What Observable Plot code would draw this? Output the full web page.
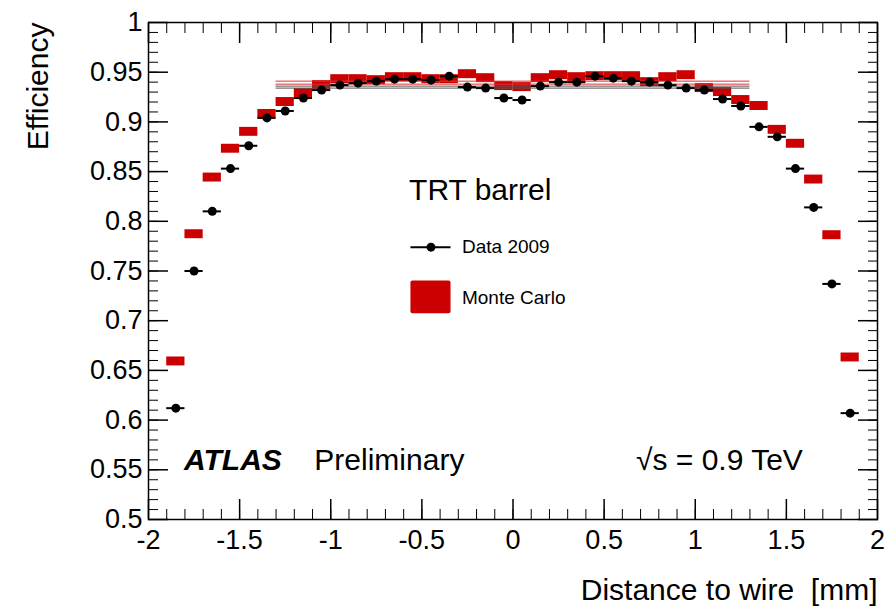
<!DOCTYPE html>
<html>
<head>
<meta charset="utf-8">
<script src="https://cdn.jsdelivr.net/npm/d3@7"></script>
<script src="https://cdn.jsdelivr.net/npm/@observablehq/plot@0.6"></script>
<style>
  body { margin: 0; background: #fff; }
  #chart svg { font-family: "Liberation Sans", Arial, sans-serif; }
</style>
</head>
<body>
<div id="chart"></div>
<script>
// bin centres, width 0.1 mm
const centres = d3.range(38).map(i => +(-1.85 + i * 0.1).toFixed(2));
const dataEff = [0.612, 0.750, 0.810, 0.853, 0.876, 0.904, 0.911, 0.924, 0.932, 0.937,
  0.939, 0.941, 0.943, 0.943, 0.942, 0.946, 0.935, 0.934, 0.924, 0.922,
  0.936, 0.940, 0.940, 0.946, 0.944, 0.941, 0.940, 0.937, 0.934, 0.932,
  0.923, 0.916, 0.895, 0.885, 0.853, 0.814, 0.737, 0.607];
const mcEff = [0.659, 0.787, 0.844, 0.873, 0.890, 0.908, 0.920, 0.929, 0.937, 0.943,
  0.943, 0.942, 0.945, 0.945, 0.943, 0.943, 0.948, 0.944, 0.936, 0.935,
  0.944, 0.947, 0.945, 0.946, 0.946, 0.946, 0.940, 0.945, 0.947, 0.934,
  0.930, 0.922, 0.916, 0.892, 0.878, 0.842, 0.786, 0.663];
// plateau fit lines over |x| < 1.3
const fitRed = [0.941, 0.938];
const fitGray = [0.936, 0.934];

const halfW = 0.05, halfH = 0.0045;
const pts = centres.map((x, i) => ({x, d: dataEff[i], mc: mcEff[i]}));

const font = "Liberation Sans, Arial, sans-serif";
const fmt = d => d3.format("~g")(+d.toFixed(2)).replace("−", "-");

const chart = Plot.plot({
  width: 888,
  height: 616,
  marginLeft: 148,
  marginRight: 11,
  marginTop: 22,
  marginBottom: 97,
  x: {domain: [-2, 2], label: null},
  y: {domain: [0.5, 1], label: null},
  style: {fontSize: "27px", fontFamily: font, color: "#000"},
  marks: [
    Plot.frame({stroke: "#000", strokeWidth: 1.5}),
    // major/minor ticks, ROOT style (inside)
    Plot.axisY(d3.range(0.5, 1.0001, 0.05), {tickSize: -20, tickPadding: 26, fontSize: 27,
      tickFormat: fmt, strokeWidth: 1.5}),
    Plot.axisY(d3.range(0.5, 1.0001, 0.01), {tickSize: -10, text: null, strokeWidth: 1}),
    Plot.axisY(d3.range(0.5, 1.0001, 0.05), {anchor: "right", tickSize: -20, text: null, strokeWidth: 1.5}),
    Plot.axisY(d3.range(0.5, 1.0001, 0.01), {anchor: "right", tickSize: -10, text: null, strokeWidth: 1}),
    Plot.axisX(d3.range(-2, 2.0001, 0.5), {tickSize: -20, tickPadding: 30, fontSize: 27,
      tickFormat: fmt, strokeWidth: 1.5}),
    Plot.axisX(d3.range(-2, 2.0001, 0.1), {tickSize: -10, text: null, strokeWidth: 1}),
    Plot.axisX(d3.range(-2, 2.0001, 0.5), {anchor: "top", tickSize: -20, text: null, strokeWidth: 1.5}),
    Plot.axisX(d3.range(-2, 2.0001, 0.1), {anchor: "top", tickSize: -10, text: null, strokeWidth: 1}),
    // MC boxes
    Plot.rect(pts, {x1: d => d.x - halfW, x2: d => d.x + halfW,
      y1: d => d.mc - halfH, y2: d => d.mc + halfH, fill: "#cc0000"}),
    // fit lines
    Plot.ruleY(fitRed, {x1: -1.3, x2: 1.3, stroke: "#e03030", strokeWidth: 1}),
    Plot.ruleY(fitGray, {x1: -1.3, x2: 1.3, stroke: "#555", strokeWidth: 1}),
    // data
    Plot.ruleY(pts, {y: "d", x1: d => d.x - halfW, x2: d => d.x + halfW, stroke: "#000", strokeWidth: 2}),
    Plot.dot(pts, {x: "x", y: "d", r: 4.5, fill: "#000"}),
    // annotations
    Plot.text(["TRT barrel"], {x: -0.57, y: 0.831, textAnchor: "start", fontSize: 30}),
    Plot.ruleY([0.774], {x1: -0.56, x2: -0.34, stroke: "#000", strokeWidth: 2}),
    Plot.dot([0.774], {x: -0.45, y: d => d, r: 4.5, fill: "#000"}),
    Plot.text(["Data 2009"], {x: -0.28, y: 0.774, textAnchor: "start", fontSize: 19}),
    Plot.rect([0], {x1: -0.56, x2: -0.34, y1: 0.707, y2: 0.740, fill: "#cc0000", rx: 2}),
    Plot.text(["Monte Carlo"], {x: -0.28, y: 0.723, textAnchor: "start", fontSize: 19}),
    Plot.text(["ATLAS"], {x: -1.805, y: 0.559, textAnchor: "start", fontSize: 30,
      fontWeight: "bold", fontStyle: "italic"}),
    Plot.text(["Preliminary"], {x: -1.09, y: 0.559, textAnchor: "start", fontSize: 30}),
    Plot.text(["√s = 0.9 TeV"], {x: 0.675, y: 0.559, textAnchor: "start", fontSize: 30}),
    // axis titles
    Plot.text(["Efficiency"], {frameAnchor: "top-left", dx: -122, dy: 0, rotate: -90,
      textAnchor: "end", lineAnchor: "top", fontSize: 30}),
    Plot.text(["Distance to wire  [mm]"], {frameAnchor: "bottom-right", dx: 0, dy: 80,
      textAnchor: "end", fontSize: 30})
  ]
});

document.querySelector("#chart").appendChild(chart);
</script>
</body>
</html>
